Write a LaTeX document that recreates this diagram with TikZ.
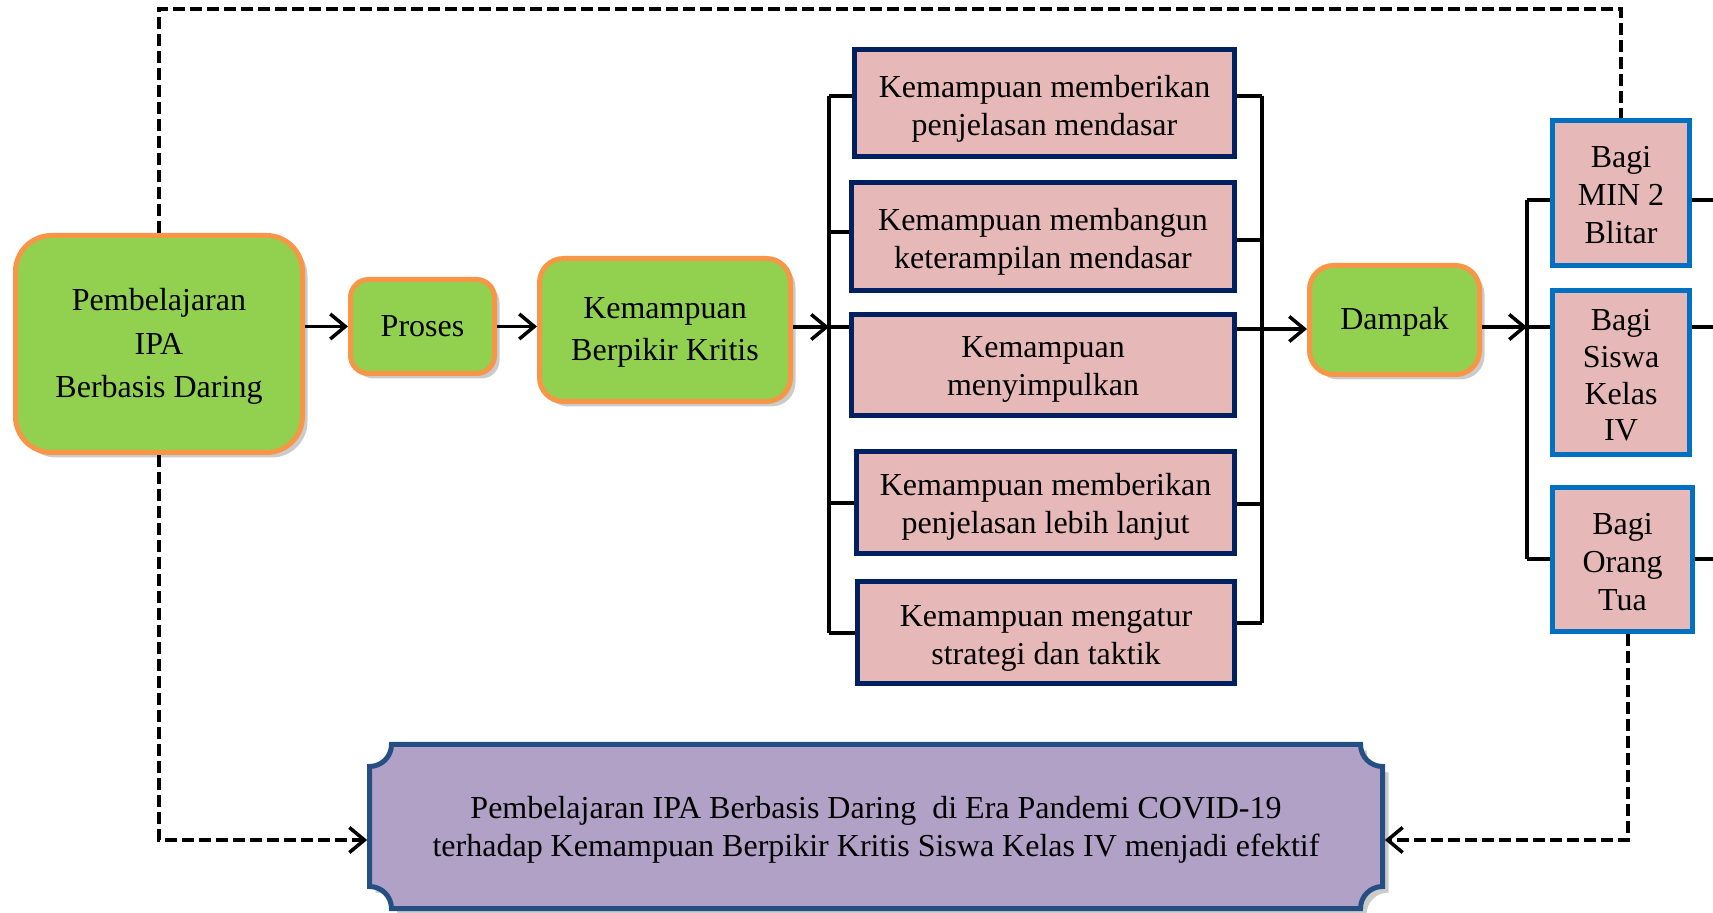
\documentclass[tikz,border=0pt]{standalone}
\usepackage{fontspec}
\setmainfont{Liberation Serif}
\usetikzlibrary{arrows.meta,shadows,calc}
\definecolor{gfill}{HTML}{92D050}
\definecolor{gedge}{HTML}{F79646}
\definecolor{pfill}{HTML}{E6B9B8}
\definecolor{navy}{HTML}{002060}
\definecolor{bedge}{HTML}{0070C0}
\definecolor{vfill}{HTML}{B2A1C7}
\definecolor{vedge}{HTML}{254F83}
\begin{document}
\begin{tikzpicture}[x=0.5pt,y=-0.5pt,
 every node/.style={font=\fontsize{16}{19}\selectfont, align=center, inner sep=0pt},
 gbox/.style={draw=gedge, fill=gfill, line width=2.5pt,
   drop shadow={shadow xshift=2.5pt, shadow yshift=-2.5pt, fill=black!45, opacity=0.45}},
 pbox/.style={draw=navy, fill=pfill, line width=2.5pt},
 bbox/.style={draw=bedge, fill=pfill, line width=2.5pt},
 conn/.style={line width=1.75pt, black},
 arr/.style={conn, -{Straight Barb[length=7.5pt,width=12.5pt,line width=1.75pt]}},
 dline/.style={line width=2pt, dash pattern=on 6pt off 2.5pt},
 darr/.style={dline, -{Straight Barb[length=7.5pt,width=12.5pt,line width=1.75pt]}, shorten >=1pt},
 plaque/.style={line width=2.5pt, draw=vedge, fill=vfill},
]
\useasboundingbox (0,0) rectangle (1713,913);

% green boxes
\node[gbox, rounded corners=18pt, minimum width=143.5pt, minimum height=108.5pt] (L) at (159,344) {};
\node[gbox, rounded corners=9pt, minimum width=72pt, minimum height=47pt] (Pr) at (422.5,326.5) {};
\node[gbox, rounded corners=12pt, minimum width=125.5pt, minimum height=71.5pt] (K) at (665,330) {};
\node[gbox, rounded corners=12pt, minimum width=85pt, minimum height=54.5pt] (D) at (1394.5,320) {};
\node (Lt) at ([yshift=-1.2pt]L.center) {Pembelajaran\\[2.8pt]IPA\\[2.8pt]Berbasis Daring};
\node (Prt) at (Pr.center) {Proses};
\node (Kt) at ([yshift=-1.1pt]K.center) {Kemampuan\\[2pt]Berpikir Kritis};
\node (Dt) at ([yshift=-1pt]D.center) {Dampak};

% pink boxes
\node[pbox, minimum width=190pt, minimum height=53.5pt] (p1) at (1044.5,103) {};
\node[pbox, minimum width=191.5pt, minimum height=54pt] (p2) at (1043,236.5) {};
\node[pbox, minimum width=191.5pt, minimum height=50.5pt] (p3) at (1043,365) {};
\node[pbox, minimum width=189pt, minimum height=51pt] (p4) at (1045.5,502.5) {};
\node[pbox, minimum width=188.5pt, minimum height=51pt] (p5) at (1046,632.5) {};
\node (p1t) at ([yshift=-2.7pt]p1.center) {Kemampuan memberikan\\penjelasan mendasar};
\node (p2t) at ([yshift=-2.5pt]p2.center) {Kemampuan membangun\\keterampilan mendasar};
\node (p3t) at ([yshift=-2.2pt]p3.center) {Kemampuan\\menyimpulkan};
\node (p4t) at ([yshift=-2.4pt]p4.center) {Kemampuan memberikan\\penjelasan lebih lanjut};
\node (p5t) at ([yshift=-2.8pt]p5.center) {Kemampuan mengatur\\strategi dan taktik};

% blue-bordered boxes
\node[bbox, minimum width=68.5pt, minimum height=72.5pt] (A) at (1621,193) {};
\node[bbox, minimum width=68.5pt, minimum height=82pt] (B) at (1621,372.5) {};
\node[bbox, minimum width=70pt, minimum height=72pt] (C) at (1622.5,559.5) {};
\node (At) at ([yshift=-1.1pt]A.center) {Bagi\\MIN 2\\Blitar};
\node[font=\fontsize{16}{18.3}\selectfont] (Bt) at ([yshift=-1.5pt]B.center) {Bagi\\Siswa\\Kelas\\IV};
\node (Ct) at ([yshift=-1.1pt]C.center) {Bagi\\Orang\\Tua};

% purple plaque
\node[minimum width=506.5pt, minimum height=82pt] (V) at (876,826.5) {};
\begin{scope}[shift={(3pt,-3pt)}]
\fill[black!45, opacity=0.45] (391.5,744.5) -- (1360.5,744.5) arc[start angle=180,end angle=270,radius=11pt]
  -- (1382.5,886.5) arc[start angle=90,end angle=180,radius=11pt]
  -- (391.5,908.5) arc[start angle=0,end angle=90,radius=11pt]
  -- (369.5,766.5) arc[start angle=270,end angle=360,radius=11pt] -- cycle;
\end{scope}
\path[plaque] (391.5,744.5) -- (1360.5,744.5) arc[start angle=180,end angle=270,radius=11pt]
  -- (1382.5,886.5) arc[start angle=90,end angle=180,radius=11pt]
  -- (391.5,908.5) arc[start angle=0,end angle=90,radius=11pt]
  -- (369.5,766.5) arc[start angle=270,end angle=360,radius=11pt] -- cycle;
\node (Vt) at (876,830) {Pembelajaran IPA Berbasis Daring\ \ di Era Pandemi COVID-19\\terhadap Kemampuan Berpikir Kritis Siswa Kelas IV menjadi efektif};

% main arrows
\draw[arr] (L.east |- Pr.west) -- (Pr.west);
\draw[arr] (Pr.east) -- (K.west |- Pr.east);

% left bus
\coordinate (lb1) at (829,96);
\coordinate (lb2) at (829,232);
\coordinate (lb3) at (829,327);
\coordinate (lb4) at (829,503);
\coordinate (lb5) at (829,633);
\draw[arr] (K.east |- lb3) -- (lb3);
\draw[conn] (lb1) -- (lb5);
\foreach \i in {1,...,5} { \draw[conn] (lb\i) -- (lb\i -| p\i.west); }

% right bus
\coordinate (rb1) at (1262,96);
\coordinate (rb2) at (1262,240);
\coordinate (rb3) at (1262,329);
\coordinate (rb4) at (1262,504);
\coordinate (rb5) at (1262,623);
\draw[conn] (rb1) -- (rb5);
\foreach \i in {1,...,5} { \draw[conn] (p\i.east |- rb\i) -- (rb\i); }
\draw[arr] (rb3) -- (D.west |- rb3);

% bus to result boxes
\coordinate (qb1) at (1527,200);
\coordinate (qb2) at (1527,327);
\coordinate (qb3) at (1527,559);
\draw[arr] (D.east |- qb2) -- (qb2);
\draw[conn] (qb1) -- (qb3);
\draw[conn] (qb1) -- (A.west |- qb1);
\draw[conn] (qb2) -- (B.west |- qb2);
\draw[conn] (qb3) -- (C.west |- qb3);
\coordinate (e1) at (1725,200);
\coordinate (e2) at (1725,327);
\coordinate (e3) at (1725,559);
\draw[conn] (A.east |- e1) -- (e1);
\draw[conn] (B.east |- e2) -- (e2);
\draw[conn] (C.east |- e3) -- (e3);

% dashed feedback lines
\coordinate (topy) at (0,9);
\coordinate (boty) at (0,840);
\draw[dline] (L.north) -- (L.north |- topy) -- (A.north |- topy) -- (A.north);
\draw[darr] (L.south) -- (L.south |- boty) -- (V.west |- boty);
\draw[darr] ([xshift=2.5pt]C.south) -- ([xshift=2.5pt]C.south |- boty) -- (V.east |- boty);
\end{tikzpicture}
\end{document}
